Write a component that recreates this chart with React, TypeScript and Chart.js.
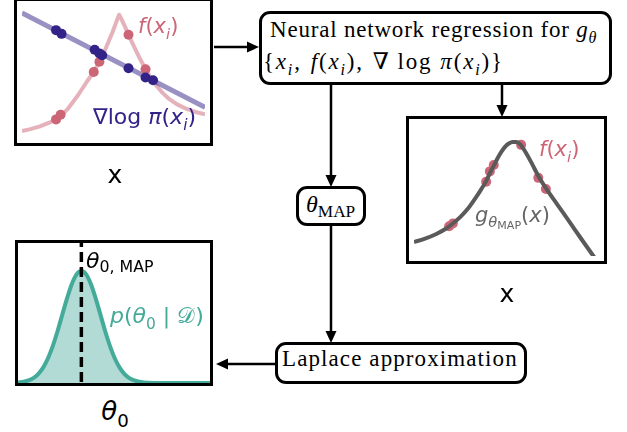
import React, { useEffect, useRef } from "react";
import { Chart, registerables } from "chart.js";

Chart.register(...registerables);

// ---------- Panel 1: target f(x) and gradient of log posterior ----------
const fCurveX = [0.0, 0.46, 0.98, 1.49, 1.86, 2.11, 2.53, 3.04, 3.56, 3.92, 4.23, 4.59, 4.95, 5.21, 5.31, 5.41, 5.62, 5.82, 6.13, 6.44, 6.75, 7.01, 7.32, 7.68, 8.04, 8.45, 8.97, 9.48, 10.0];
const fCurveY = [0.53, 0.67, 0.88, 1.16, 1.41, 1.65, 2.25, 3.2, 4.3, 5.0, 5.77, 6.83, 8.03, 9.01, 9.33, 9.08, 8.45, 7.82, 6.9, 6.02, 5.21, 4.61, 4.01, 3.42, 2.96, 2.57, 2.22, 1.97, 1.8];
const fSampleX = [1.86, 2.11, 3.92, 4.23, 5.82, 6.75];
const fSampleY = [1.41, 1.76, 5.0, 5.77, 7.82, 5.21];
const gradLineX = [0, 10];
const gradLineY = [9.47, 2.32];
const gradSampleX = [1.86, 2.16, 3.97, 4.23, 4.38, 5.82, 6.75, 7.16];
const gradSampleY = [8.17, 7.89, 6.69, 6.41, 6.27, 5.28, 4.58, 4.37];

// ---------- Panel 2: fitted network g_thetaMAP ----------
const gCurveX = [0.0, 0.56, 1.18, 1.74, 2.1, 2.51, 2.92, 3.33, 3.64, 3.9, 4.1, 4.31, 4.51, 4.72, 4.92, 5.13, 5.33, 5.54, 5.69, 5.85, 6.05, 6.36, 6.72, 7.13, 7.74, 8.36, 8.97, 9.59, 9.95];
const gCurveY = [1.06, 1.3, 1.65, 2.08, 2.46, 2.96, 3.59, 4.4, 5.07, 5.67, 6.27, 6.83, 7.39, 7.89, 8.27, 8.52, 8.63, 8.63, 8.52, 8.27, 7.82, 7.04, 6.06, 5.14, 3.91, 2.68, 1.44, 0.21, -0.49];
const gSampleX = [1.9, 2.1, 3.9, 4.1, 4.31, 5.79, 6.72, 7.13];
const gSampleY = [2.25, 2.46, 5.63, 6.41, 6.9, 8.42, 5.92, 5.07];

// ---------- Panel 3: Laplace posterior of theta0 ----------
const postX = [0.0, 0.3, 0.55, 0.8, 1.05, 1.3, 1.55, 1.8, 2.05, 2.3, 2.55, 2.8, 3.05, 3.3, 3.55, 3.8, 4.05, 4.3, 4.55, 4.8, 5.05, 5.3, 5.55, 5.8, 6.05, 6.3, 6.55, 6.8, 7.3, 10.0];
const postY = [0.03, 0.09, 0.18, 0.35, 0.64, 1.08, 1.73, 2.6, 3.66, 4.85, 6.03, 7.06, 7.76, 8.0, 7.76, 7.06, 6.03, 4.85, 3.66, 2.6, 1.73, 1.08, 0.64, 0.35, 0.18, 0.09, 0.04, 0.02, 0.0, 0.0];
const thetaMap = 3.3;

const PINK = "#CC6677";
const PINK_LIGHT = "rgba(204,102,119,0.5)";
const INDIGO = "#332288";
const INDIGO_LIGHT = "rgba(51,34,136,0.5)";
const TEAL = "#44AA99";
const TEAL_FILL = "rgba(68,170,153,0.42)";
const GRAY = "#5a5a5a";

const pts = (xs: number[], ys: number[]) => xs.map((x, i) => ({ x, y: ys[i] }));

const baseOptions = (): any => ({
  responsive: false,
  animation: false,
  devicePixelRatio: 1,
  events: [],
  layout: { padding: 0 },
  plugins: { legend: { display: false }, tooltip: { enabled: false } },
  scales: {
    x: { type: "linear", min: 0, max: 10, display: false },
    y: { type: "linear", min: 0, max: 10, display: false },
  },
});

const lineDs = (xs: number[], ys: number[], color: string, width: number, order: number, extra: any = {}) => ({
  data: pts(xs, ys),
  showLine: true,
  borderColor: color,
  borderWidth: width,
  pointRadius: 0,
  tension: 0,
  borderJoinStyle: "round",
  borderCapStyle: "butt",
  order,
  ...extra,
});

const dotDs = (xs: number[], ys: number[], color: string, order: number) => ({
  data: pts(xs, ys),
  showLine: false,
  pointRadius: 5,
  pointBorderWidth: 0,
  pointBackgroundColor: color,
  backgroundColor: color,
  borderColor: color,
  order,
});

const panel1 = () => ({
  type: "scatter",
  data: {
    datasets: [
      lineDs(fCurveX, fCurveY, PINK_LIGHT, 4, 4),
      lineDs(gradLineX, gradLineY, INDIGO_LIGHT, 5, 3),
      dotDs(fSampleX, fSampleY, PINK, 2),
      dotDs(gradSampleX, gradSampleY, INDIGO, 1),
    ],
  },
  options: baseOptions(),
});

const panel2 = () => ({
  type: "scatter",
  data: {
    datasets: [
      dotDs(gSampleX, gSampleY, PINK, 2),
      lineDs(gCurveX, gCurveY, GRAY, 4, 1, { cubicInterpolationMode: "monotone" }),
    ],
  },
  options: baseOptions(),
});

const panel3 = () => ({
  type: "scatter",
  data: {
    datasets: [
      lineDs(postX, postY, TEAL, 4, 2, { fill: "origin", backgroundColor: TEAL_FILL, cubicInterpolationMode: "monotone" }),
      lineDs([thetaMap, thetaMap], [-1, 11], "#000", 3.5, 1, { borderDash: [10, 5] }),
    ],
  },
  options: baseOptions(),
});

function Panel({ left, top, width, height, make }: any) {
  const ref = useRef<HTMLCanvasElement>(null);
  useEffect(() => {
    const chart = new Chart(ref.current as HTMLCanvasElement, make());
    return () => chart.destroy();
  }, []);
  return (
    <div style={{ position: "absolute", left, top, width, height, border: "3px solid #000", boxSizing: "border-box", background: "#fff" }}>
      <canvas ref={ref} width={width - 6} height={height - 6} style={{ display: "block" }} />
    </div>
  );
}

const SANS = "'DejaVu Sans', sans-serif";
const SERIF = "'Liberation Serif', 'DejaVu Serif', serif";

function Txt({ x, y, size, family = SANS, color = "#000", center = false, spacing = 0, children }: any) {
  return (
    <div
      style={{
        position: "absolute",
        left: x,
        top: y - 0.84 * size,
        fontSize: size,
        lineHeight: `${size}px`,
        fontFamily: family,
        color,
        whiteSpace: "nowrap",
        letterSpacing: spacing,
        transform: center ? "translateX(-50%)" : undefined,
      }}
    >
      {children}
    </div>
  );
}

const Sub = ({ children, s = 0.7, d = 0.28 }: any) => (
  <span style={{ fontSize: `${s}em`, position: "relative", top: `${d / s}em` }}>{children}</span>
);
const I = ({ children }: any) => <i>{children}</i>;
const Sp = ({ w }: any) => <span style={{ display: "inline-block", width: w }} />;

function FlowBox({ left, top, width, height }: any) {
  return (
    <div style={{ position: "absolute", left, top, width, height, border: "3px solid #000", borderRadius: 11, boxSizing: "border-box", background: "#fff" }} />
  );
}

function Arrows() {
  const sw = 2.5;
  const head = (x: number, y: number, dir: string) => {
    const L = 12, W = 5.5;
    let p = "";
    if (dir === "right") p = `${x},${y} ${x - L},${y - W} ${x - L},${y + W}`;
    if (dir === "left") p = `${x},${y} ${x + L},${y - W} ${x + L},${y + W}`;
    if (dir === "down") p = `${x},${y} ${x - W},${y - L} ${x + W},${y - L}`;
    return <polygon points={p} fill="#000" />;
  };
  return (
    <svg width={627} height={432} style={{ position: "absolute", left: 0, top: 0 }}>
      <line x1={214} y1={47} x2={250} y2={47} stroke="#000" strokeWidth={sw} />
      {head(259, 47, "right")}
      <line x1={331} y1={84} x2={331} y2={178} stroke="#000" strokeWidth={sw} />
      {head(331, 187, "down")}
      <line x1={502} y1={84} x2={502} y2={108} stroke="#000" strokeWidth={sw} />
      {head(502, 117, "down")}
      <line x1={331} y1={225} x2={331} y2={334} stroke="#000" strokeWidth={sw} />
      {head(331, 343, "down")}
      <line x1={276} y1={364} x2={226} y2={364} stroke="#000" strokeWidth={sw} />
      {head(216, 364, "left")}
    </svg>
  );
}

export default function App() {
  return (
    <div style={{ position: "absolute", left: 0, top: 0, width: 627, height: 432, background: "#fff", overflow: "hidden" }}>
      <Arrows />
      <Panel left={14} top={-2} width={199} height={148} make={panel1} />
      <Panel left={406} top={116} width={201} height={148} make={panel2} />
      <Panel left={15} top={240} width={198} height={146} make={panel3} />

      <FlowBox left={259} top={11} width={353} height={74} />
      <FlowBox left={296} top={186} width={70} height={40} />
      <FlowBox left={275} top={342} width={252} height={42} />

      {/* flow box texts */}
      <Txt x={270} y={37} size={23} family={SERIF} spacing={0.8}>
        Neural network regression for <I>g</I>
        <Sub>
          <I>θ</I>
        </Sub>
      </Txt>
      <Txt x={263} y={69} size={23} family={SERIF} spacing={1.8}>
        {"{"}
        <I>x</I>
        <Sub>
          <I>i</I>
        </Sub>
        ,<Sp w={9} />
        <I>f</I>(<I>x</I>
        <Sub>
          <I>i</I>
        </Sub>
        ),<Sp w={9} />∇<Sp w={7} />log<Sp w={8} />
        <I>π</I>(<I>x</I>
        <Sub>
          <I>i</I>
        </Sub>
        ){"}"}
      </Txt>
      <Txt x={306} y={212} size={24} family={SERIF}>
        <I>θ</I>
        <Sub s={0.72} d={0.2}>MAP</Sub>
      </Txt>
      <Txt x={282} y={366} size={23} family={SERIF} spacing={1.1}>
        Laplace approximation
      </Txt>

      {/* panel annotations */}
      <Txt x={138} y={34} size={21} color={PINK}>
        <I>f</I>(<I>x</I>
        <Sub>
          <I>i</I>
        </Sub>
        )
      </Txt>
      <Txt x={93} y={124} size={22} color={INDIGO}>
        ∇log <I>π</I>(<I>x</I>
        <Sub>
          <I>i</I>
        </Sub>
        )
      </Txt>
      <Txt x={539} y={157} size={21} color={PINK}>
        <I>f</I>(<I>x</I>
        <Sub>
          <I>i</I>
        </Sub>
        )
      </Txt>
      <Txt x={475} y={223} size={21} color="#666">
        <I>g</I>
        <Sub s={0.7} d={0.22}>
          <I>θ</I>
          <Sub s={0.75} d={0.12}>MAP</Sub>
        </Sub>
        (<I>x</I>)
      </Txt>
      <Txt x={86} y={268} size={22}>
        <I>θ</I>
        <Sub s={0.72} d={0.22}>0, MAP</Sub>
      </Txt>
      <Txt x={110} y={323} size={22} color={TEAL}>
        <I>p</I>(<I>θ</I>
        <Sub>0</Sub> | 𝒟)
      </Txt>

      {/* axis labels */}
      <Txt x={115} y={183} size={25} center>
        x
      </Txt>
      <Txt x={507} y={302} size={25} center>
        x
      </Txt>
      <Txt x={115} y={420} size={26} center>
        <I>θ</I>
        <Sub>0</Sub>
      </Txt>
    </div>
  );
}
